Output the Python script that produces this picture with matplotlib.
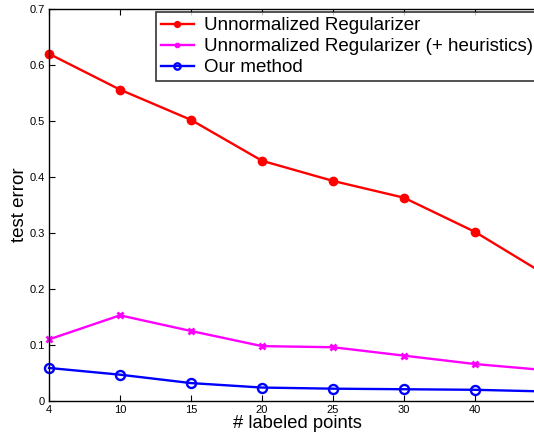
import matplotlib
matplotlib.use("Agg")
import matplotlib.pyplot as plt

plt.rcParams['font.family'] = ['Liberation Sans', 'DejaVu Sans']

x_labels = ['4', '10', '15', '20', '25', '30', '40', '']
unnorm = [0.620, 0.556, 0.502, 0.429, 0.393, 0.363, 0.302, 0.225]
unnorm_heur = [0.110, 0.153, 0.125, 0.098, 0.096, 0.081, 0.066, 0.055]
ours = [0.059, 0.047, 0.032, 0.024, 0.022, 0.021, 0.020, 0.017]
y_ticks = [0, 0.1, 0.2, 0.3, 0.4, 0.5, 0.6, 0.7]
y_tick_labels = ['0', '0.1', '0.2', '0.3', '0.4', '0.5', '0.6', '0.7']

W, H = 534, 432
fig = plt.figure(figsize=(W / 100, H / 100), dpi=100)
left, right, top, bottom = 49, 546, 9, 401
ax = fig.add_axes([left / W, 1 - bottom / H, (right - left) / W, (bottom - top) / H])

xs = list(range(len(x_labels)))
l1, = ax.plot(xs, unnorm, color='#ff0000', lw=1.7, marker='o', ms=6, mfc='#ff0000', mec='#ff0000', clip_on=False)
l2, = ax.plot(xs, unnorm_heur, color='#ff00ff', lw=1.7, marker='x', ms=5, mew=2, clip_on=False)
l3, = ax.plot(xs, ours, color='#0000ff', lw=1.7, marker='o', ms=6.5, mfc='none', mew=1.7, mec='#0000ff', clip_on=False)

ax.set_xlim(0, 7)
ax.set_ylim(0, 0.7)
ax.set_xticks(xs)
ax.set_xticklabels(x_labels, fontsize=8)
ax.set_yticks(y_ticks)
ax.set_yticklabels(y_tick_labels, fontsize=8)
ax.tick_params(direction='in', top=True, right=True, length=4, width=0.8, pad=3)
for s in ax.spines.values():
    s.set_linewidth(1.0)

ax.set_xlabel('# labeled points', fontsize=13.2, labelpad=0)
ax.set_ylabel('test error', fontsize=13.5, labelpad=1)

leg = fig.legend([l1, l2, l3],
                 ['Unnormalized Regularizer', 'Unnormalized Regularizer (+ heuristics)', 'Our method'],
                 loc='upper left', bbox_to_anchor=(156 / W, 1 - 12 / H),
                 bbox_transform=fig.transFigure, fontsize=13.5, frameon=True, fancybox=False,
                 edgecolor='black', borderaxespad=0, handlelength=1.72, handletextpad=0.55,
                 labelspacing=0.2, borderpad=0.28, markerscale=0.7)
leg.get_frame().set_linewidth(1.2)

fig.savefig('out.png', dpi=100)
